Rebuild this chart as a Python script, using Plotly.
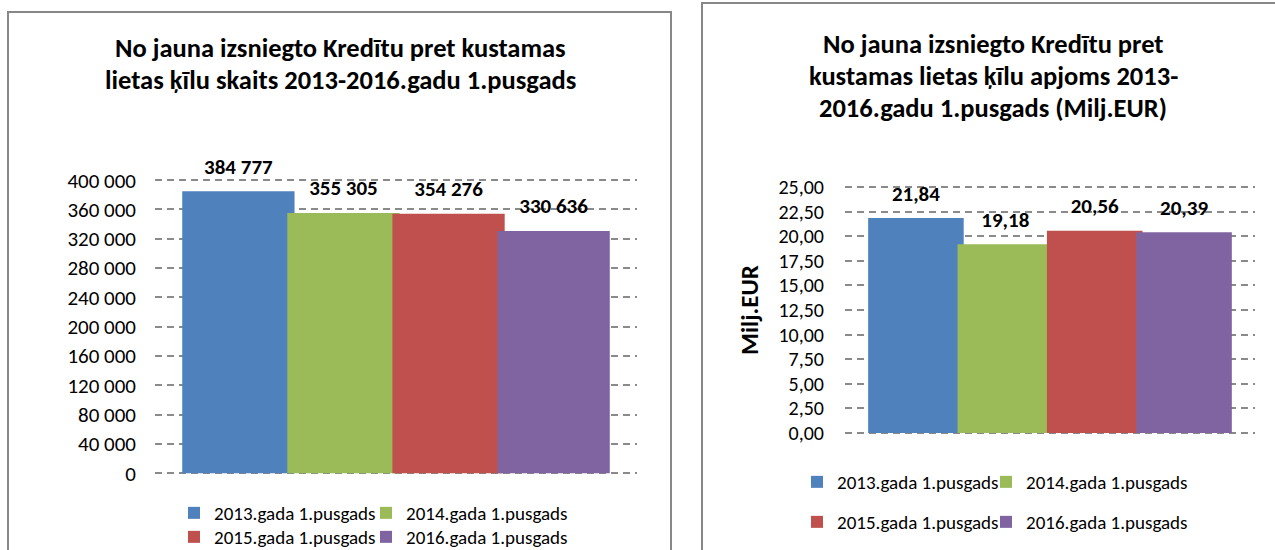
import plotly.graph_objects as go

# ---- data ----
series_names = ["2013.gada 1.pusgads", "2014.gada 1.pusgads",
                "2015.gada 1.pusgads", "2016.gada 1.pusgads"]
count_values = [384777, 355305, 354276, 330636]
volume_values = [21.84, 19.18, 20.56, 20.39]
colors = ["#4F81BD", "#9BBB59", "#C0504D", "#8064A2"]
left_title = ["No jauna izsniegto Kredītu pret kustamas",
              "lietas ķīlu skaits 2013-2016.gadu 1.pusgads"]
right_title = ["No jauna izsniegto Kredītu pret",
               "kustamas lietas ķīlu apjoms 2013-",
               "2016.gadu 1.pusgads (Milj.EUR)"]
right_y_title = "Milj.EUR"

W, H = 1275, 550
FONT = "Carlito, Lato, 'Open Sans', sans-serif"
BAR_W = 0.233   # bar width (slightly wider than slot -> Excel-like overlap)
GAP = 0.128

def px_x(x):
    return x / W

def px_y(y):
    return 1 - y / H

fig = go.Figure()
legend_ids_left = ["legend", "legend2", "legend3", "legend4"]
legend_ids_right = ["legend5", "legend6", "legend7", "legend8"]

label_font = dict(family=FONT, size=21, color="#000000", weight="bold")

for i, name in enumerate(series_names):
    fig.add_trace(go.Bar(
        x=["a"], y=[count_values[i]], name=name, width=BAR_W,
        marker=dict(color=colors[i], line=dict(width=0)),
        xaxis="x", yaxis="y", offsetgroup=str(i),
        legend=legend_ids_left[i], hoverinfo="skip",
    ))
for i, name in enumerate(series_names):
    fig.add_trace(go.Bar(
        x=["a"], y=[volume_values[i]], name=name, width=BAR_W,
        marker=dict(color=colors[i], line=dict(width=0)),
        xaxis="x2", yaxis="y2", offsetgroup=str(i),
        legend=legend_ids_right[i], hoverinfo="skip",
    ))
# data labels (invisible marker keeps the Excel-like gap above each bar)
for i, name in enumerate(series_names):
    fig.add_trace(go.Scatter(
        x=["a"], y=[count_values[i]], mode="markers+text", offsetgroup=str(i),
        marker=dict(size=18, opacity=0), texttemplate="%{y:,d}",
        textposition="top center", textfont=label_font, cliponaxis=False,
        showlegend=False, hoverinfo="skip", xaxis="x", yaxis="y",
    ))
for i, name in enumerate(series_names):
    fig.add_trace(go.Scatter(
        x=["a"], y=[volume_values[i]], mode="markers+text", offsetgroup=str(i),
        marker=dict(size=18, opacity=0), texttemplate="%{y:.2f}",
        textposition="top center", textfont=label_font, cliponaxis=False,
        showlegend=False, hoverinfo="skip", xaxis="x2", yaxis="y2",
    ))

grid = dict(showgrid=True, gridcolor="#8a8a8a", gridwidth=1.5, griddash="7px,5px",
            zeroline=False, showline=False, ticks="")

layout = dict(
    width=W, height=H, margin=dict(l=0, r=0, t=0, b=0, autoexpand=False),
    paper_bgcolor="white", plot_bgcolor="white",
    separators=", ", showlegend=True,
    barmode="group", bargap=GAP, bargroupgap=0,
    scattermode="group", scattergap=GAP,
    font=dict(family=FONT, color="#000000"),
    xaxis=dict(domain=[px_x(155), px_x(637)], anchor="y", showticklabels=False,
               showgrid=False, zeroline=False, showline=False, ticks=""),
    yaxis=dict(domain=[px_y(475.2), px_y(178.1)], anchor="x", range=[-2800, 402800],
               tick0=0, dtick=40000, tickformat=",d", ticklabelstandoff=18,
               tickfont=dict(family=FONT, size=21, color="#000000"), **grid),
    xaxis2=dict(domain=[px_x(845), px_x(1255)], anchor="y2", showticklabels=False,
                showgrid=False, zeroline=False, showline=False, ticks=""),
    yaxis2=dict(domain=[px_y(435), px_y(185)], anchor="x2", range=[-0.2, 25.2],
                tick0=0, dtick=2.5, tickformat=".2f", ticklabelstandoff=20,
                tickfont=dict(family=FONT, size=20, color="#000000"),
                title=dict(text="<b>" + right_y_title + "</b>", standoff=12,
                           font=dict(family=FONT, size=25, color="#000000")),
                **grid),
)

leg_common = dict(orientation="h", bgcolor="rgba(0,0,0,0)", xanchor="left",
                  yanchor="middle", itemwidth=30,
                  font=dict(family=FONT, size=19, color="#000000"))
leg_x_left = [174, 366, 174, 366]
leg_y_left = [513, 513, 537, 537]
leg_x_right = [797, 986, 797, 986]
leg_y_right = [482, 482, 522, 522]
for i in range(4):
    layout[legend_ids_left[i]] = dict(x=px_x(leg_x_left[i]), y=px_y(leg_y_left[i]), **leg_common)
    layout[legend_ids_right[i]] = dict(x=px_x(leg_x_right[i]), y=px_y(leg_y_right[i]), **leg_common)

annotations = []
for k, line in enumerate(left_title):
    annotations.append(dict(text="<b>" + line + "</b>", x=px_x(340), y=px_y(48 + 32 * k),
                            xref="paper", yref="paper", showarrow=False,
                            xanchor="center", yanchor="middle",
                            font=dict(family=FONT, size=26.5, color="#000000")))
for k, line in enumerate(right_title):
    annotations.append(dict(text="<b>" + line + "</b>", x=px_x(993), y=px_y(44 + 32 * k),
                            xref="paper", yref="paper", showarrow=False,
                            xanchor="center", yanchor="middle",
                            font=dict(family=FONT, size=26.5, color="#000000")))
layout["annotations"] = annotations

layout["shapes"] = [
    dict(type="rect", xref="paper", yref="paper", x0=px_x(8), x1=px_x(671),
         y0=-0.05, y1=px_y(12), line=dict(color="#878787", width=2), layer="below"),
    dict(type="rect", xref="paper", yref="paper", x0=px_x(702), x1=1.02,
         y0=-0.05, y1=px_y(3), line=dict(color="#878787", width=2), layer="below"),
]

fig.update_layout(**layout)
fig.write_html("out.html", config={"displayModeBar": False},
               post_script="document.body.style.margin='0';document.body.style.overflow='hidden';")
